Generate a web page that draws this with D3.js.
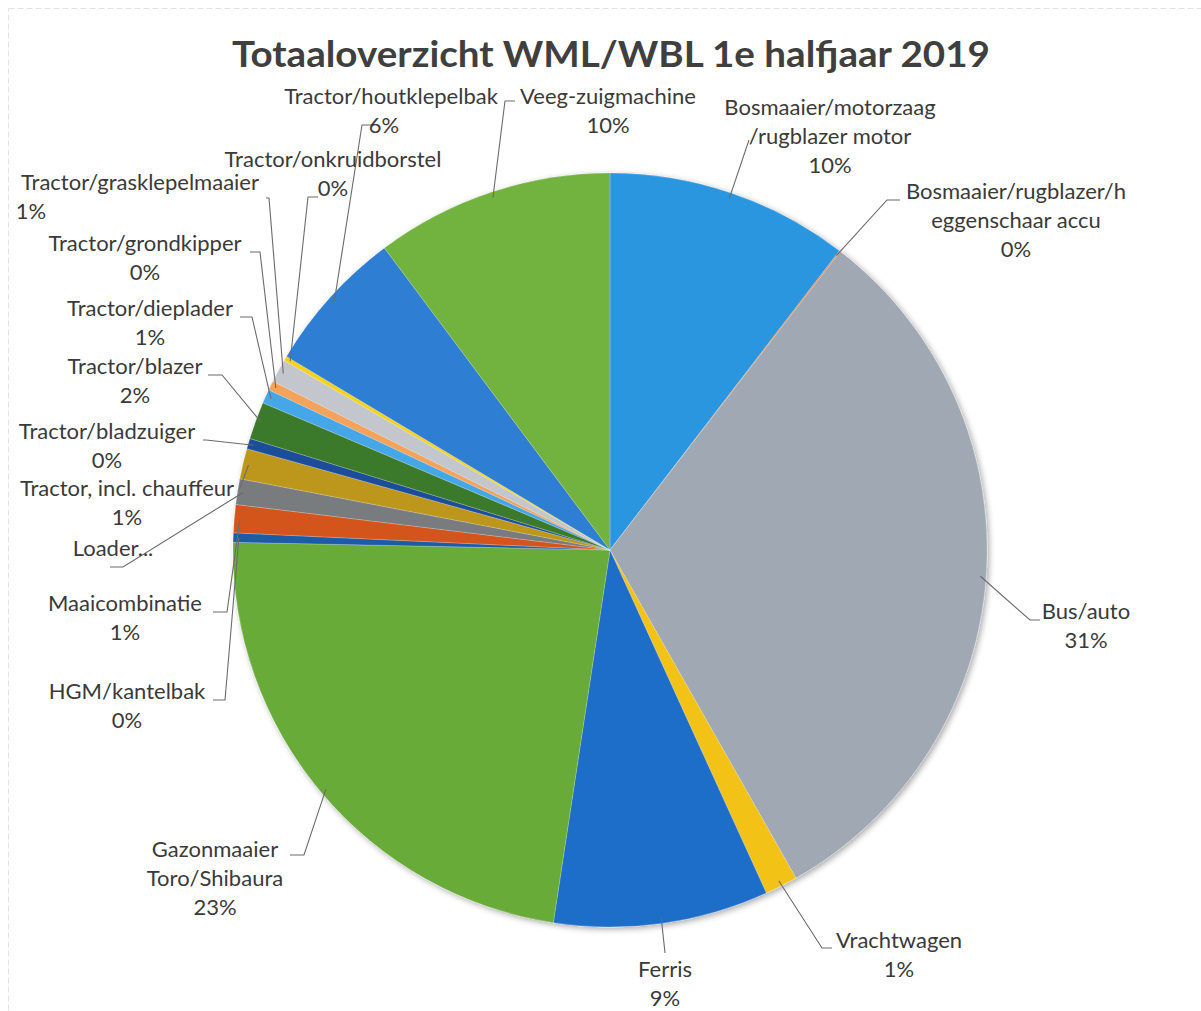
<!DOCTYPE html>
<html>
<head>
<meta charset="utf-8">
<script src="https://cdn.jsdelivr.net/npm/d3@7/dist/d3.min.js"></script>
<style>
  html, body { margin: 0; padding: 0; background: #fff; }
  svg { display: block; }
</style>
</head>
<body>
<svg id="chart" width="1201" height="1011"></svg>
<script>
// ---- data ----
const title = "Totaaloverzicht WML/WBL 1e halfjaar 2019";
const categories = [
  "Bosmaaier/motorzaag\n/rugblazer motor",
  "Bosmaaier/rugblazer/h\neggenschaar accu",
  "Bus/auto",
  "Vrachtwagen",
  "Ferris",
  "Gazonmaaier\nToro/Shibaura",
  "HGM/kantelbak",
  "Maaicombinatie",
  "Loader...",
  "Tractor, incl. chauffeur",
  "Tractor/bladzuiger",
  "Tractor/blazer",
  "Tractor/dieplader",
  "Tractor/grondkipper",
  "Tractor/grasklepelmaaier",
  "Tractor/onkruidborstel",
  "Tractor/houtklepelbak",
  "Veeg-zuigmachine"
];
const values = [10.4, 0.05, 31.3, 1.4, 9.2, 22.9, 0.4, 1.2, 1.1, 1.3, 0.45, 1.6, 0.6, 0.4, 1.0, 0.2, 6.2, 10.2];
const showPercent = [true, true, true, true, true, true, true, true, false, true, true, true, true, true, true, true, true, true];
const colors = ["#2b96df", "#ed7d31", "#9fa8b3", "#f2c318", "#1f6ec8", "#67ab37",
                "#1d5ca6", "#d4541c", "#797b7e", "#bd961c", "#1f4e9b", "#3b7a2c",
                "#44a7e8", "#f3a35c", "#c3c7cd", "#f7d21c", "#2f7fd3", "#72b33f"];

// ---- layout (label placement) ----
const cx = 610, cy = 550, R = 377;
const labelLayout = [
  { x: 830, y: 115, ex: 749, ey: 140, hx: 749 },
  { x: 1016, y: 199, ex: 887, ey: 200, hx: 900 },
  { x: 1086, y: 619, ex: 1030, ey: 620, hx: 1040 },
  { x: 899, y: 948, ex: 822, ey: 948, hx: 832 },
  { x: 665, y: 977, ex: 665, ey: 953, hx: 665 },
  { x: 215, y: 857, ex: 304, ey: 855, hx: 290 },
  { x: 127, y: 699, ex: 225, ey: 700, hx: 213 },
  { x: 125, y: 611, ex: 227, ey: 612, hx: 213 },
  { x: 113, y: 556, ex: 123, ey: 567, hx: 110 },
  { x: 127, y: 496, ex: 240, ey: 488, hx: 239 },
  { x: 107, y: 439, ex: 206, ey: 440, hx: 203 },
  { x: 135, y: 374, ex: 222, ey: 375, hx: 208 },
  { x: 150, y: 316, ex: 252, ey: 317, hx: 240 },
  { x: 145, y: 251, ex: 260, ey: 252, hx: 250 },
  { x: 140, y: 190, ex: 269, ey: 198, hx: 266, pctX: 31 },
  { x: 333, y: 167, ex: 308, ey: 197, hx: 318, pctX: 333 },
  { x: 391, y: 104, ex: 362, ey: 125, hx: 372, pctX: 384 },
  { x: 608, y: 104, ex: 505, ey: 101, hx: 515 }
];
const lineH = 29;

const svg = d3.select("#chart");
const total = d3.sum(values);

// border of chart area (scan)
svg.append("rect").attr("x", 8.5).attr("y", 8.5).attr("width", 1300).attr("height", 1100)
  .attr("fill", "none").attr("stroke", "#e2e2e2").attr("stroke-dasharray", "6,3").attr("stroke-width", 1);

// title
svg.append("text")
  .attr("x", 611).attr("y", 67)
  .attr("text-anchor", "middle")
  .attr("font-family", "Lato, 'Open Sans', sans-serif")
  .attr("font-weight", "bold")
  .attr("font-size", 37)
  .attr("fill", "#3f3f3f")
  .attr("textLength", 758).attr("lengthAdjust", "spacingAndGlyphs")
  .text(title);

// defs: soft shadow
const defs = svg.append("defs");
const f = defs.append("filter").attr("id", "sh").attr("x", "-10%").attr("y", "-10%").attr("width", "120%").attr("height", "120%");
f.append("feGaussianBlur").attr("in", "SourceAlpha").attr("stdDeviation", 3).attr("result", "b");
f.append("feOffset").attr("in", "b").attr("dx", 2).attr("dy", 2).attr("result", "o");
f.append("feComponentTransfer").attr("in", "o").attr("result", "o2")
  .append("feFuncA").attr("type", "linear").attr("slope", 0.35);
const m = f.append("feMerge");
m.append("feMergeNode").attr("in", "o2");
m.append("feMergeNode").attr("in", "SourceGraphic");

const pie = d3.pie().sort(null).value(d => d).startAngle(0).endAngle(2 * Math.PI);
const arcs = pie(values);
const arc = d3.arc().innerRadius(0).outerRadius(R);

const g = svg.append("g").attr("transform", `translate(${cx},${cy})`);
const pg = g.append("g").attr("filter", "url(#sh)");
pg.selectAll("path.slice").data(arcs).join("path")
  .attr("class", "slice")
  .attr("d", arc)
  .attr("fill", (d, i) => colors[i])
  .attr("stroke", "rgba(255,255,255,0.35)")
  .attr("stroke-width", 0.6);

// leader lines
arcs.forEach((d, i) => {
  const L = labelLayout[i];
  const mid = (d.startAngle + d.endAngle) / 2;
  const px = cx + Math.sin(mid) * R * 0.985;
  const py = cy - Math.cos(mid) * R * 0.985;
  svg.append("polyline")
    .attr("points", [[px, py], [L.ex, L.ey], [L.hx, L.ey]].map(p => p.join(",")).join(" "))
    .attr("fill", "none")
    .attr("stroke", "#6b6b6b")
    .attr("stroke-width", 1.1);
});

// labels
const lab = svg.append("g")
  .attr("font-family", "Lato, 'Open Sans', sans-serif")
  .attr("font-size", 22)
  .attr("fill", "#3a3a3a")
  .attr("text-anchor", "middle");

categories.forEach((c, i) => {
  const L = labelLayout[i];
  const lines = c.split("\n");
  lines.forEach((t, k) => {
    lab.append("text").attr("x", L.x).attr("y", L.y + k * lineH).text(t);
  });
  if (showPercent[i]) {
    const pct = Math.round(values[i] / total * 100) + "%";
    lab.append("text")
      .attr("x", L.pctX !== undefined ? L.pctX : L.x)
      .attr("y", L.y + lines.length * lineH)
      .text(pct);
  }
});
</script>
</body>
</html>
